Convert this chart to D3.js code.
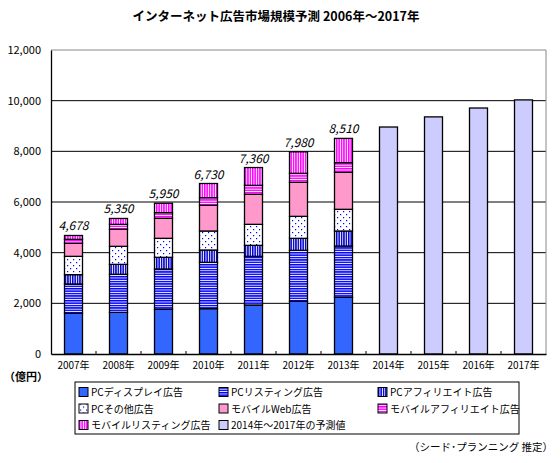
<!DOCTYPE html>
<html>
<head>
<meta charset="utf-8">
<script src="https://cdn.jsdelivr.net/npm/d3@7"></script>
<style>
  body { margin: 0; background: #fff; }
  text { font-family: "Noto Sans CJK JP", "DejaVu Sans", sans-serif; }
</style>
</head>
<body>
<svg id="chart" width="560" height="463"></svg>
<script>
// data (unit: 億円)
const years = ["2007年", "2008年", "2009年", "2010年", "2011年", "2012年", "2013年"];
const forecastYears = ["2014年", "2015年", "2016年", "2017年"];
const pcDisplay     = [1605, 1645, 1763, 1789, 1934, 2079, 2237];
const pcListing     = [1158, 1500, 1592, 1829, 1921, 2013, 2026];
const pcAffiliate   = [369, 394, 461, 487, 434, 474, 592];
const pcOther       = [723, 711, 750, 750, 829, 868, 856];
const mobileWeb     = [513, 671, 789, 1013, 1185, 1342, 1460];
const mobileAff     = [158, 197, 224, 303, 355, 356, 382];
const mobileListing = [152, 232, 371, 559, 702, 848, 957];
const totalLabels   = ["4,678", "5,350", "5,950", "6,730", "7,360", "7,980", "8,510"];
const forecast      = [8960, 9360, 9710, 10030];
const yTicks = [0, 2000, 4000, 6000, 8000, 10000, 12000];

const seriesNames = ["PCディスプレイ広告", "PCリスティング広告", "PCアフィリエイト広告",
  "PCその他広告", "モバイルWeb広告", "モバイルアフィリエイト広告", "モバイルリスティング広告"];
const seriesData = [pcDisplay, pcListing, pcAffiliate, pcOther, mobileWeb, mobileAff, mobileListing];
const forecastName = "2014年～2017年の予測値";

const svg = d3.select("#chart");
const margin = {left: 51, right: 546, top: 50, bottom: 354};

// fill patterns
const defs = svg.append("defs");
function stripes(id, color, vertical) {
    const p = defs.append("pattern").attr("id", id)
        .attr("patternUnits", "userSpaceOnUse")
        .attr("width", vertical ? 2.4 : 4).attr("height", vertical ? 4 : 2.4);
    p.append("rect").attr("width", 4).attr("height", 4).attr("fill", "#fff");
    p.append("rect")
        .attr("width", vertical ? 1.5 : 4)
        .attr("height", vertical ? 4 : 1.5)
        .attr("fill", color);
}
stripes("pcListing", "#0000ff", false);
stripes("pcAffiliate", "#0000cc", true);
stripes("mobAffiliate", "#ff00ff", false);
stripes("mobListing", "#ff00ff", true);
const dots = defs.append("pattern").attr("id", "pcOther")
    .attr("patternUnits", "userSpaceOnUse").attr("width", 6).attr("height", 6);
dots.append("rect").attr("width", 6).attr("height", 6).attr("fill", "#fff");
dots.append("rect").attr("x", 1).attr("y", 1).attr("width", 1.2).attr("height", 1.2).attr("fill", "#0000ff");
dots.append("rect").attr("x", 4).attr("y", 4).attr("width", 1.2).attr("height", 1.2).attr("fill", "#0000ff");

const fills = ["#3366ff", "url(#pcListing)", "url(#pcAffiliate)", "url(#pcOther)",
  "#ff99cc", "url(#mobAffiliate)", "url(#mobListing)"];
const forecastFill = "#ccccff";

const allYears = years.concat(forecastYears);
const x = d3.scaleBand().domain(allYears).range([margin.left, margin.right]).paddingInner(0.6).paddingOuter(0.3);
const y = d3.scaleLinear().domain([0, 12000]).range([margin.bottom, margin.top]);

// title
svg.append("text")
    .attr("x", 276).attr("y", 21)
    .attr("text-anchor", "middle")
    .attr("font-size", "12.5px").attr("font-weight", "bold")
    .text("インターネット広告市場規模予測 2006年～2017年");

// gridlines
svg.append("g").selectAll("line")
    .data(yTicks.filter(d => d > 0 && d < 12000))
    .join("line")
    .attr("x1", margin.left).attr("x2", margin.right)
    .attr("y1", d => y(d)).attr("y2", d => y(d))
    .attr("stroke", "#000").attr("stroke-width", 1);

// plot border (top / right grey)
svg.append("path")
    .attr("d", `M${margin.left},${y(12000)}H${margin.right}V${margin.bottom}`)
    .attr("fill", "none").attr("stroke", "#888").attr("stroke-width", 1);

// y axis
const yAxis = svg.append("g")
    .attr("transform", `translate(${margin.left},0)`)
    .call(d3.axisLeft(y).tickValues(yTicks).tickFormat(d3.format(",")).tickSize(0).tickPadding(10));
yAxis.select(".domain").attr("stroke", "#000").attr("stroke-width", 1.3);
yAxis.selectAll("text").attr("font-size", "11px").attr("fill", "#000")
    .attr("font-family", "'Noto Sans CJK JP', sans-serif");

// stacked bars
const rows = years.map((yr, i) => {
    const r = {year: yr};
    seriesData.forEach((s, k) => r["s" + k] = s[i]);
    return r;
});
const stack = d3.stack().keys(seriesData.map((s, k) => "s" + k))(rows);
svg.append("g").selectAll("g")
    .data(stack)
    .join("g")
    .attr("fill", (d, k) => fills[k])
    .selectAll("rect")
    .data(d => d)
    .join("rect")
    .attr("x", d => x(d.data.year))
    .attr("width", x.bandwidth())
    .attr("y", d => y(d[1]))
    .attr("height", d => y(d[0]) - y(d[1]))
    .attr("stroke", "#000").attr("stroke-width", 1.3);

// forecast bars
svg.append("g").selectAll("rect")
    .data(forecast)
    .join("rect")
    .attr("x", (d, i) => x(forecastYears[i]))
    .attr("width", x.bandwidth())
    .attr("y", d => y(d))
    .attr("height", d => y(0) - y(d))
    .attr("fill", forecastFill)
    .attr("stroke", "#000").attr("stroke-width", 1.3);

// totals
const totals = rows.map((r, i) => d3.sum(seriesData, s => s[i]));
svg.append("g").selectAll("text")
    .data(totals)
    .join("text")
    .attr("x", (d, i) => x(years[i]) + x.bandwidth() / 2)
    .attr("y", d => y(d) - 5)
    .attr("text-anchor", "middle")
    .attr("font-size", "12px").attr("font-style", "italic")
    .attr("font-family", "'Liberation Sans', sans-serif")
    .text((d, i) => totalLabels[i]);

// x axis
const xAxis = svg.append("g")
    .attr("transform", `translate(0,${margin.bottom})`)
    .call(d3.axisBottom(x).tickSize(0).tickPadding(8));
xAxis.select(".domain").attr("stroke", "#000").attr("stroke-width", 1.3);
xAxis.selectAll("text").attr("font-size", "10px").attr("fill", "#000")
    .attr("font-family", "'Noto Sans CJK JP', sans-serif");
// small inner ticks at band boundaries
const step = x.step();
svg.append("g").selectAll("line")
    .data(allYears.slice(1))
    .join("line")
    .attr("x1", d => x(d) - (step - x.bandwidth()) / 2)
    .attr("x2", d => x(d) - (step - x.bandwidth()) / 2)
    .attr("y1", margin.bottom).attr("y2", margin.bottom - 3)
    .attr("stroke", "#000");

// unit label
svg.append("text")
    .attr("x", 4).attr("y", 381)
    .attr("font-size", "11px").attr("font-weight", "bold")
    .text("（億円）");

// legend
const legend = svg.append("g");
legend.append("rect")
    .attr("x", 75).attr("y", 382).attr("width", 444).attr("height", 52)
    .attr("fill", "#fff").attr("stroke", "#000").attr("stroke-width", 1);
const legendItems = seriesNames.map((n, k) => ({name: n, fill: fills[k]}))
    .concat([{name: forecastName, fill: forecastFill}]);
const colX = [79, 219, 378];
const rowY = [392, 408.5, 425];
legend.selectAll("g")
    .data(legendItems)
    .join("g")
    .attr("transform", (d, i) => `translate(${colX[i % 3]},${rowY[Math.floor(i / 3)]})`)
    .each(function(d) {
        const g = d3.select(this);
        g.append("rect").attr("x", 0).attr("y", -4.5).attr("width", 9).attr("height", 9)
            .attr("fill", d.fill).attr("stroke", "#000").attr("stroke-width", 1);
        g.append("text").attr("x", 12).attr("y", 4)
            .attr("font-size", "10px")
            .text(d.name);
    });

// source
svg.append("text")
    .attr("x", 553).attr("y", 451)
    .attr("text-anchor", "end")
    .attr("font-size", "10.5px")
    .text("（シード･プランニング 推定）");
</script>
</body>
</html>
